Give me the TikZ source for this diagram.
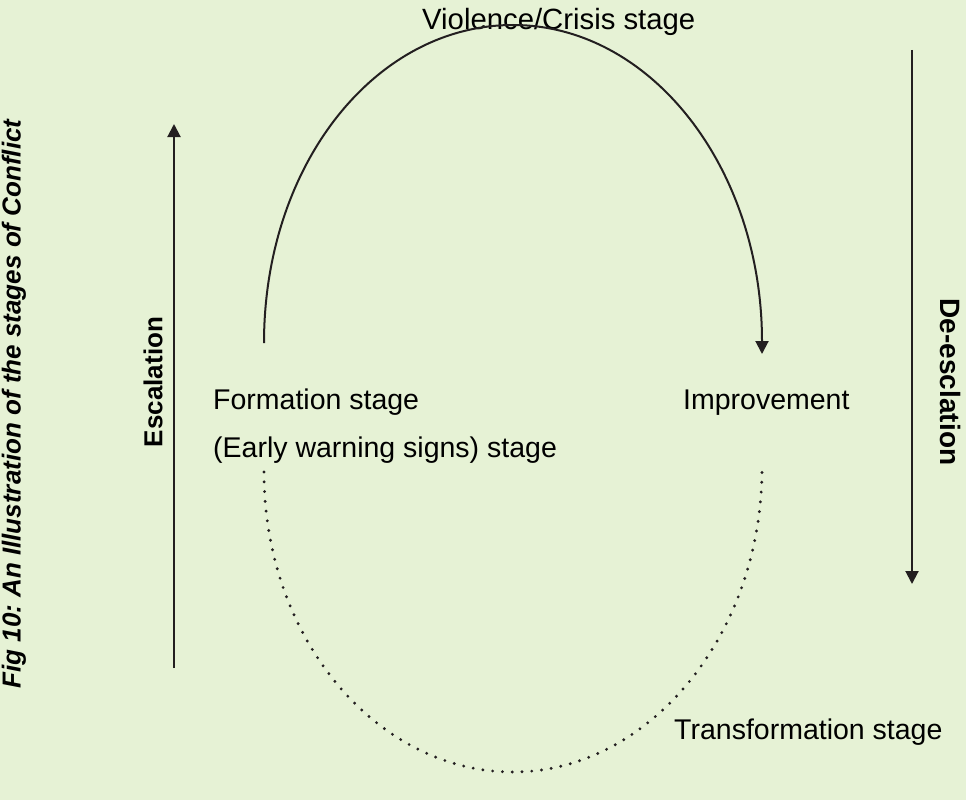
\documentclass[tikz,border=0pt]{standalone}
\usepackage{fontspec}
\setmainfont{Liberation Sans}
\usetikzlibrary{arrows.meta}
\definecolor{paper}{RGB}{230,242,213}
\definecolor{ink}{RGB}{35,31,32}
\frenchspacing
\begin{document}
\begin{tikzpicture}[x=1pt,y=-1pt,
  stagetext/.style={inner sep=0pt, anchor=base west, text=black,
    font=\fontsize{28.5}{34}\selectfont},
  sidetext/.style={inner sep=0pt, text=black,
    font=\fontsize{26}{30}\selectfont\bfseries},
  captiontext/.style={inner sep=0pt, text=black, rotate=90,
    font=\fontsize{26}{30}\selectfont\bfseries\itshape},
  flow/.style={draw=ink, line width=2pt,
    -{Triangle[length=13pt,width=13pt]}},
  calmflow/.style={draw=ink, line width=3.2pt, line cap=round,
    dash pattern=on 0pt off 9.8pt}
]
% page
\fill[paper] (0,0) rectangle (966,800);
\useasboundingbox (0,0) rectangle (966,800);

% caption
\node[captiontext] (caption) at (14,404) {Fig 10: An Illustration of the stages of Conflict};

% stage labels
\node[stagetext, font=\fontsize{29.3}{34}\selectfont] (crisis) at (422,30) {Violence/Crisis stage};
\node[stagetext] (formation) at (213,409) {Formation stage};
\node[stagetext] (warning) at (213,457) {(Early warning signs) stage};
\node[stagetext] (improve) at (683,409) {Improvement};
\node[stagetext] (transform) at (674,739) {Transformation stage};

% side labels
\node[sidetext, rotate=90] (escalation) at (153,382) {Escalation};
\node[sidetext, rotate=-90, font=\fontsize{28}{32}\selectfont\bfseries] (deesc) at (950,382) {De-esclation};

% end points of the connectors
\coordinate (escBot) at (174,668);
\coordinate (escTop) at (174,124);
\coordinate (deTop) at (912,50);
\coordinate (deBot) at (912,584);
\coordinate (riseStart) at (264,343);
\coordinate (peak) at (513,25);
\coordinate (fallEnd) at (762,354);
\coordinate (calmStart) at (264,472);
\coordinate (trough) at (513,772);
\coordinate (calmEnd) at (762,468);

% escalation / de-escalation axes
\draw[flow] (escBot) -- (escTop);
\draw[flow] (deTop) -- (deBot);

% conflict curve over the crisis peak
\draw[flow] (riseStart) .. controls (264,165) and (375,25) .. (peak)
  .. controls (651,25) and (762,168) .. (fallEnd);

% dotted return through transformation
\draw[calmflow] (calmStart) .. controls (264,640) and (378,772) .. (trough)
  .. controls (648,772) and (762,636) .. (calmEnd);
\end{tikzpicture}
\end{document}
